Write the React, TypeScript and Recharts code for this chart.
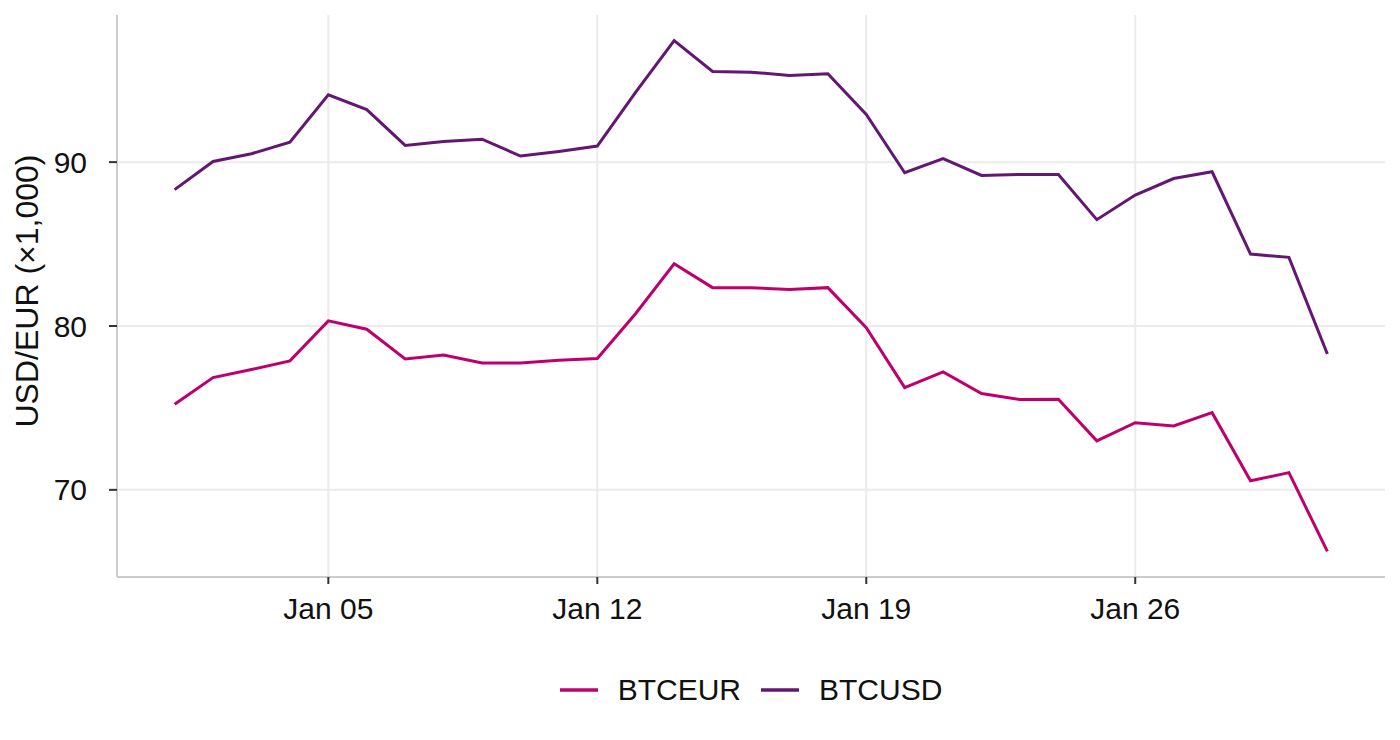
import React from 'react';
import { LineChart, Line, XAxis, YAxis, ReferenceLine, Legend } from 'recharts';

// day of month, January
const days = [1, 2, 3, 4, 5, 6, 7, 8, 9, 10, 11, 12, 13, 14, 15, 16, 17, 18, 19, 20, 21, 22, 23, 24, 25, 26, 27, 28, 29, 30, 31];
const btcEur = [75.22, 76.85, 77.34, 77.87, 80.31, 79.8, 77.99, 78.23, 77.74, 77.74, 77.91, 78.01, 80.76, 83.8, 82.34, 82.34, 82.23, 82.34, 79.9, 76.24, 77.2, 75.88, 75.51, 75.53, 72.99, 74.1, 73.9, 74.71, 70.55, 71.05, 66.24];
const btcUsd = [88.32, 90.04, 90.51, 91.22, 94.11, 93.21, 91.02, 91.26, 91.4, 90.37, 90.65, 90.98, 94.27, 97.42, 95.53, 95.49, 95.29, 95.39, 92.91, 89.35, 90.21, 89.19, 89.25, 89.25, 86.49, 87.99, 89.0, 89.41, 84.39, 84.19, 78.29];
const xTicks = [5, 12, 19, 26];
const yTicks = [70, 80, 90];
const monthName = 'Jan';

const series = [
  { key: 'BTCEUR', color: '#BE006E' },
  { key: 'BTCUSD', color: '#641673' },
];

const data = days.map((d, i) => ({ day: d, BTCEUR: btcEur[i], BTCUSD: btcUsd[i] }));

// ggplot style 5% expansion
const all = [...btcEur, ...btcUsd];
const yMin = Math.min(...all);
const yMax = Math.max(...all);
const yPad = (yMax - yMin) * 0.05;
const xPad = (days[days.length - 1] - days[0]) * 0.05;

const FONT = '"Liberation Sans", Arial, Helvetica, sans-serif';
const TEXT = '#111111';
const GRID = '#EBEBEB';

const LegendContent = () => (
  <div
    style={{
      display: 'flex',
      justifyContent: 'center',
      alignItems: 'center',
      height: 40,
      fontFamily: FONT,
      fontSize: 30,
      color: TEXT,
    }}
  >
    {series.map((s, i) => (
      <div key={s.key} style={{ display: 'flex', alignItems: 'center', marginLeft: i === 0 ? 0 : 20 }}>
        <svg width={38} height={10} style={{ marginRight: 20 }}>
          <line x1={0} y1={5} x2={38} y2={5} stroke={s.color} strokeWidth={3.5} />
        </svg>
        <span>{s.key}</span>
      </div>
    ))}
  </div>
);

const YTitle = (props: any) => {
  const vb = props.viewBox || { y: 15, height: 562 };
  const cy = vb.y + vb.height / 2 - 5;
  return (
    <text
      x={38}
      y={cy}
      transform={`rotate(-90, 38, ${cy})`}
      textAnchor="middle"
      style={{ fontFamily: FONT, fontSize: 32, fill: TEXT }}
    >
      USD/EUR (×1,000)
    </text>
  );
};

export default function App() {
  return (
    <div style={{ position: 'fixed', top: 0, left: 0, width: 1400, height: 740, background: '#fff' }}>
      <LineChart
        width={1400}
        height={740}
        data={data}
        margin={{ top: 15, right: 15, left: 0, bottom: 10 }}
      >
        {/* panel grid at the major breaks only */}
        {yTicks.map(t => (
          <ReferenceLine key={`gy${t}`} y={t} stroke={GRID} strokeWidth={2} />
        ))}
        {xTicks.map(t => (
          <ReferenceLine key={`gx${t}`} x={t} stroke={GRID} strokeWidth={2} />
        ))}
        <XAxis
          type="number"
          dataKey="day"
          domain={[days[0] - xPad, days[days.length - 1] + xPad]}
          ticks={xTicks}
          tickFormatter={(d: number) => `${monthName} ${String(d).padStart(2, '0')}`}
          height={113}
          axisLine={{ stroke: '#CCCCCC', strokeWidth: 2 }}
          tickLine={{ stroke: '#333333', strokeWidth: 2 }}
          tickSize={7}
          tickMargin={14}
          tick={{ fontSize: 30, fill: TEXT, fontFamily: FONT }}
        />
        <YAxis
          type="number"
          domain={[yMin - yPad, yMax + yPad]}
          ticks={yTicks}
          allowDataOverflow
          width={117}
          axisLine={{ stroke: '#CCCCCC', strokeWidth: 2 }}
          tickLine={{ stroke: '#333333', strokeWidth: 2 }}
          tickSize={8}
          tickMargin={22}
          tick={{ fontSize: 30, fill: TEXT, fontFamily: FONT }}
          label={{ content: YTitle }}
        />
        <Legend
          verticalAlign="bottom"
          content={LegendContent}
          wrapperStyle={{ top: 670, bottom: 'auto', left: 117, width: 1268, height: 40 }}
        />
        {series.map(s => (
          <Line
            key={s.key}
            type="linear"
            dataKey={s.key}
            stroke={s.color}
            strokeWidth={3}
            dot={false}
            activeDot={false}
            isAnimationActive={false}
          />
        ))}
      </LineChart>
    </div>
  );
}
